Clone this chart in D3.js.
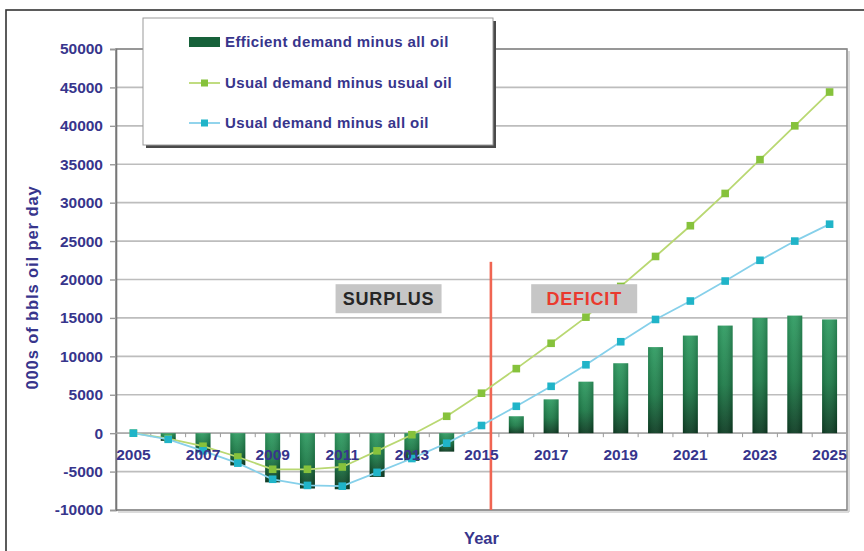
<!DOCTYPE html>
<html>
<head>
<meta charset="utf-8">
<script src="https://cdn.jsdelivr.net/npm/d3@7/dist/d3.min.js"></script>
<style>
  html, body { margin: 0; padding: 0; background: #fff; }
  svg { display: block; }
  text { font-family: "Liberation Sans", Arial, sans-serif; }
</style>
</head>
<body>
<svg id="chart" width="864" height="551"></svg>
<script>
// ---- data ----
const years = [2005, 2006, 2007, 2008, 2009, 2010, 2011, 2012, 2013, 2014, 2015,
               2016, 2017, 2018, 2019, 2020, 2021, 2022, 2023, 2024, 2025];
const efficientMinusAll = [0, -1000, -2500, -4200, -6400, -7200, -7300, -5700, -3600, -2400, 0,
                           2200, 4400, 6700, 9100, 11200, 12700, 14000, 15000, 15300, 14800];
const usualMinusUsual = [0, -700, -1700, -3100, -4700, -4700, -4400, -2300, -200, 2200, 5200,
                         8400, 11700, 15100, 19100, 23000, 27000, 31200, 35600, 40000, 44400];
const usualMinusAll = [0, -800, -2300, -3900, -6000, -6800, -6900, -5100, -3300, -1300, 1000,
                       3500, 6100, 8900, 11900, 14800, 17200, 19800, 22500, 25000, 27200];
const yTicks = [-10000, -5000, 0, 5000, 10000, 15000, 20000, 25000, 30000, 35000, 40000, 45000, 50000];
const xTickLabels = [2005, 2007, 2009, 2011, 2013, 2015, 2017, 2019, 2021, 2023, 2025];
const seriesNames = ["Efficient demand minus all oil", "Usual demand minus usual oil", "Usual demand minus all oil"];
const dividerYear = 2015.27;          // boundary between surplus and deficit periods
const dividerTop = 22300;
const zoneLabels = ["SURPLUS", "DEFICIT"];
const zoneYears = [2012.33, 2017.95];
const zoneValue = 17500;

// ---- layout ----
const svg = d3.select("#chart");
const plot = { left: 116, right: 847, top: 49, bottom: 510 };
const ink = "#37358c";

const x = d3.scaleBand().domain(years).range([plot.left, plot.right])
  .paddingInner(0.57).paddingOuter(0.285);
const cx = d => x(d) + x.bandwidth() / 2;
const xc = d3.scaleLinear().domain([years[0], years[years.length - 1]])
  .range([cx(years[0]), cx(years[years.length - 1])]);
const y = d3.scaleLinear().domain([-10000, 50000]).range([plot.bottom, plot.top]);

// outer frame
svg.append("rect").attr("x", 6).attr("y", 10).attr("width", 880).attr("height", 560)
  .attr("fill", "#fff").attr("stroke", "#333").attr("stroke-width", 1.6);

// gradient for the bars
const defs = svg.append("defs");
const grad = defs.append("linearGradient").attr("id", "barGrad")
  .attr("x1", 0).attr("y1", 0).attr("x2", 0).attr("y2", 1);
grad.append("stop").attr("offset", "0%").attr("stop-color", "#2f9c62");
grad.append("stop").attr("offset", "55%").attr("stop-color", "#1c7a47");
grad.append("stop").attr("offset", "100%").attr("stop-color", "#0c3b22");
const gradH = defs.append("linearGradient").attr("id", "barShade")
  .attr("x1", 0).attr("y1", 0).attr("x2", 1).attr("y2", 0);
gradH.append("stop").attr("offset", "0%").attr("stop-color", "#000").attr("stop-opacity", 0.12);
gradH.append("stop").attr("offset", "40%").attr("stop-color", "#fff").attr("stop-opacity", 0.06);
gradH.append("stop").attr("offset", "100%").attr("stop-color", "#000").attr("stop-opacity", 0.18);

// gridlines
svg.append("g").selectAll("line").data(yTicks).join("line")
  .attr("x1", plot.left).attr("x2", plot.right)
  .attr("y1", d => y(d)).attr("y2", d => y(d))
  .attr("stroke", "#bdbdbd").attr("stroke-width", 1.6);

// plot border
svg.append("rect").attr("x", plot.left).attr("y", plot.top)
  .attr("width", plot.right - plot.left).attr("height", plot.bottom - plot.top)
  .attr("fill", "none").attr("stroke", "#8a8a8a").attr("stroke-width", 1.6);
svg.append("line").attr("x1", plot.left + 2).attr("x2", plot.right + 2)
  .attr("y1", plot.bottom + 2).attr("y2", plot.bottom + 2)
  .attr("stroke", "#cfcfcf").attr("stroke-width", 1.5);
svg.append("line").attr("x1", plot.right + 2).attr("x2", plot.right + 2)
  .attr("y1", plot.top + 2).attr("y2", plot.bottom + 2)
  .attr("stroke", "#cfcfcf").attr("stroke-width", 1.5);

// y axis
const yAxis = svg.append("g").attr("transform", `translate(${plot.left},0)`)
  .call(d3.axisLeft(y).tickValues(yTicks).tickSize(6).tickPadding(7).tickFormat(d => String(d)));
yAxis.select(".domain").attr("stroke", "#777").attr("stroke-width", 1.6);
yAxis.selectAll(".tick line").attr("stroke", "#999").attr("stroke-width", 1.4);
yAxis.selectAll(".tick text").attr("fill", ink).attr("font-size", 15.5).attr("font-weight", "bold")
  .attr("letter-spacing", "0");

// zero axis with category ticks
svg.append("line").attr("x1", plot.left).attr("x2", plot.right)
  .attr("y1", y(0)).attr("y2", y(0)).attr("stroke", "#a8a8a8").attr("stroke-width", 1.4);
svg.append("g").selectAll("line").data(years.slice(1)).join("line")
  .attr("x1", d => x(d) - x.step() * x.paddingInner() / 2)
  .attr("x2", d => x(d) - x.step() * x.paddingInner() / 2)
  .attr("y1", y(0)).attr("y2", y(0) + 4)
  .attr("stroke", "#999").attr("stroke-width", 1);

// bars
const bars = svg.append("g");
years.forEach((yr, i) => {
  const v = efficientMinusAll[i];
  if (v === 0) return;
  const top = y(Math.max(0, v)), h = Math.abs(y(v) - y(0));
  bars.append("rect").attr("x", x(yr)).attr("y", top).attr("width", x.bandwidth()).attr("height", h)
    .attr("fill", "url(#barGrad)");
  bars.append("rect").attr("x", x(yr)).attr("y", top).attr("width", x.bandwidth()).attr("height", h)
    .attr("fill", "url(#barShade)");
});

// divider between surplus and deficit
svg.append("line").attr("x1", xc(dividerYear)).attr("x2", xc(dividerYear))
  .attr("y1", y(dividerTop)).attr("y2", y(-10000))
  .attr("stroke", "#f06552").attr("stroke-width", 2.6);

// lines
function drawSeries(values, lineColor, markColor) {
  const pts = years.map((yr, i) => [cx(yr), y(values[i])]);
  svg.append("path").attr("d", d3.line()(pts)).attr("fill", "none")
    .attr("stroke", lineColor).attr("stroke-width", 1.8);
  svg.append("g").selectAll("rect").data(pts).join("rect")
    .attr("x", d => d[0] - 3.8).attr("y", d => d[1] - 3.8)
    .attr("width", 7.6).attr("height", 7.6).attr("fill", markColor);
}
drawSeries(usualMinusUsual, "#b9d872", "#86c23c");
drawSeries(usualMinusAll, "#86d0ea", "#20b4c8");

// zone labels
const zoneColors = ["#262626", "#ea3a2e"];
zoneLabels.forEach((t, i) => {
  const zx = xc(zoneYears[i]), zy = y(zoneValue);
  svg.append("rect").attr("x", zx - 53).attr("y", zy - 14.5).attr("width", 106).attr("height", 29)
    .attr("fill", "#c6c6c6");
  svg.append("text").attr("x", zx).attr("y", zy).attr("dy", "0.36em")
    .attr("text-anchor", "middle").attr("font-size", 18).attr("font-weight", "bold")
    .attr("letter-spacing", "0.8").attr("fill", zoneColors[i]).text(t);
});

// x labels
svg.append("g").selectAll("text").data(xTickLabels).join("text")
  .attr("x", d => cx(d)).attr("y", y(0) + 27)
  .attr("text-anchor", "middle").attr("font-size", 15.5).attr("font-weight", "bold")
  .attr("fill", ink).text(d => d);

// axis titles
svg.append("text").attr("x", (plot.left + plot.right) / 2 + 0).attr("y", 544)
  .attr("text-anchor", "middle").attr("font-size", 16.5).attr("font-weight", "bold")
  .attr("fill", ink).text("Year");
svg.append("text").attr("transform", `translate(38,${(plot.top + plot.bottom) / 2 + 8}) rotate(-90)`)
  .attr("text-anchor", "middle").attr("font-size", 16.5).attr("font-weight", "bold")
  .attr("letter-spacing", "0.9").attr("fill", ink).text("000s of bbls oil per day");

// legend
const lg = svg.append("g").attr("transform", "translate(143,18)");
lg.append("rect").attr("x", 3).attr("y", 3).attr("width", 350).attr("height", 127).attr("fill", "#4a4a4a");
lg.append("rect").attr("width", 350).attr("height", 127).attr("fill", "#fff")
  .attr("stroke", "#9a9a9a").attr("stroke-width", 1);
const rows = [24, 65, 105];
lg.append("rect").attr("x", 46).attr("y", rows[0] - 5).attr("width", 31).attr("height", 10)
  .attr("fill", "#17613a");
[["#b9d872", "#86c23c"], ["#86d0ea", "#20b4c8"]].forEach((c, i) => {
  const ry = rows[i + 1];
  lg.append("line").attr("x1", 46).attr("x2", 77).attr("y1", ry).attr("y2", ry)
    .attr("stroke", c[0]).attr("stroke-width", 1.8);
  lg.append("rect").attr("x", 58).attr("y", ry - 3.5).attr("width", 7).attr("height", 7).attr("fill", c[1]);
});
lg.selectAll("text.lab").data(seriesNames).join("text").attr("class", "lab")
  .attr("x", 82).attr("y", (d, i) => rows[i]).attr("dy", "0.36em")
  .attr("font-size", 15).attr("font-weight", "bold").attr("letter-spacing", "0.4")
  .attr("fill", ink).text(d => d);
</script>
</body>
</html>
